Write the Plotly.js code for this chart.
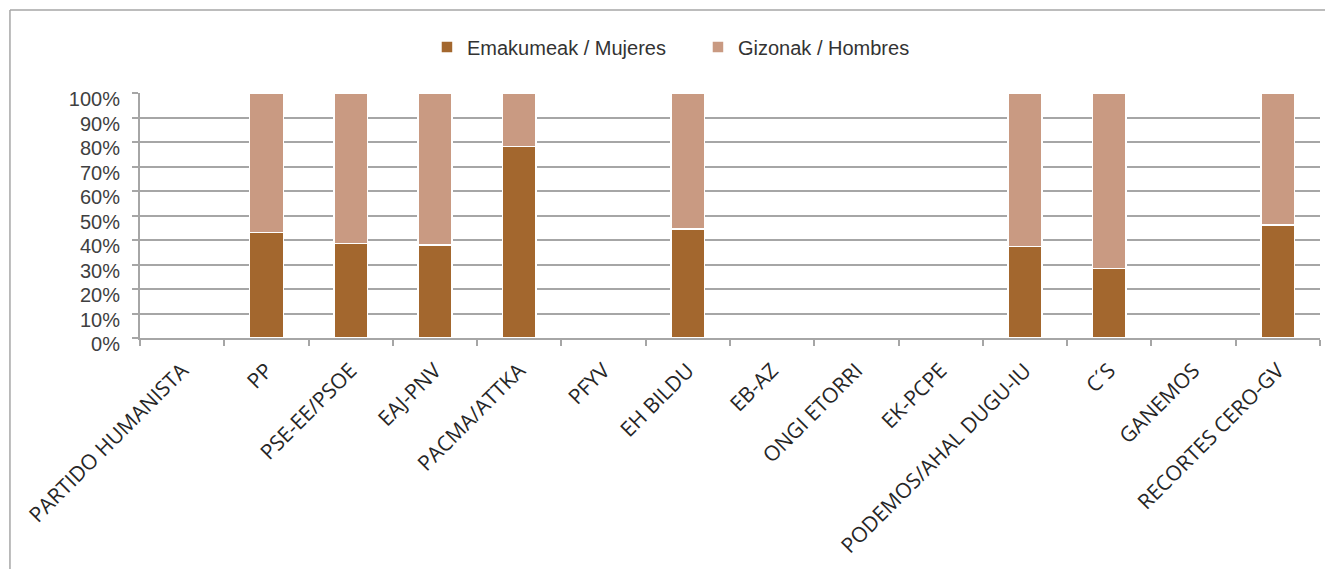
<!DOCTYPE html>
<html><head><meta charset="utf-8">
<script src="https://cdn.plot.ly/plotly-3.0.1.min.js"></script>
<style>html,body{margin:0;padding:0;background:#fff;}#chart{width:1325px;height:569px;}</style>
</head><body><div id="chart"></div>
<script>
const categories = ["PARTIDO HUMANISTA","PP","PSE-EE/PSOE","EAJ-PNV","PACMA/ATTKA","PFYV","EH BILDU","EB-AZ","ONGI ETORRI","EK-PCPE","PODEMOS/AHAL DUGU-IU","C´S","GANEMOS","RECORTES CERO-GV"];
const mujeres = [null,43.0,38.6,38.0,78.2,null,44.5,null,null,null,37.3,28.4,null,46.1];
const hombres = [null,57.0,61.4,62.0,21.8,null,55.5,null,null,null,62.7,71.6,null,53.9];
const seriesNames = ["Emakumeak / Mujeres","Gizonak / Hombres"];
const tickVals = [0,10,20,30,40,50,60,70,80,90,100];
const tickText = tickVals.map(v => v + "%");

const barStyle = c => ({color: c, line: {color: "#ffffff", width: 1.5}});
const data = [
  {type:"bar", x:categories, y:mujeres, name:seriesNames[0], marker:barStyle("#A3672E"), width:0.4, hoverinfo:"x+y"},
  {type:"bar", x:categories, y:hombres, name:seriesNames[1], marker:barStyle("#C99A82"), width:0.4, hoverinfo:"x+y"}
];
const frame = {color:"#A6A6A6", width:1.5};
const layout = {
  width:1325, height:569,
  barmode:"stack",
  margin:{l:140, r:5, t:93, b:231},
  paper_bgcolor:"#fff", plot_bgcolor:"#fff",
  showlegend:true,
  legend:{orientation:"h", traceorder:"normal", x:0.2432, xanchor:"left", y:1.188, yanchor:"middle",
          entrywidth:226, entrywidthmode:"pixels",
          font:{family:"Liberation Sans, Arial", size:20, color:"#333"}},
  xaxis:{type:"category", tickangle:-45, tickson:"boundaries", ticks:"outside", ticklen:6, tickcolor:"#A6A6A6", tickwidth:2,
         showline:true, linecolor:"#A6A6A6", linewidth:2, showgrid:false, ticklabelstandoff:10,
         tickfont:{family:"Open Sans, Noto Sans", size:21, color:"#262626"}},
  yaxis:{range:[0,100], tickvals:tickVals, ticktext:tickText, ticks:"outside", ticklen:6, tickcolor:"#A6A6A6", tickwidth:2,
         showline:true, linecolor:"#A6A6A6", linewidth:2, showgrid:true, gridcolor:"#A6A6A6", gridwidth:2, zeroline:false,
         ticklabelstandoff:8, ticklabelshift:6,
         tickfont:{family:"Liberation Sans, Arial", size:20, color:"#404040"}},
  shapes:[
    {type:"line", xref:"paper", yref:"paper", x0:-0.1102, x1:-0.1102, y0:1.339, y1:-1.0, line:frame},
    {type:"line", xref:"paper", yref:"paper", x0:-0.1102, x1:1.01, y0:1.339, y1:1.339, line:frame}
  ]
};
Plotly.newPlot("chart", data, layout, {displayModeBar:false});
</script></body></html>
